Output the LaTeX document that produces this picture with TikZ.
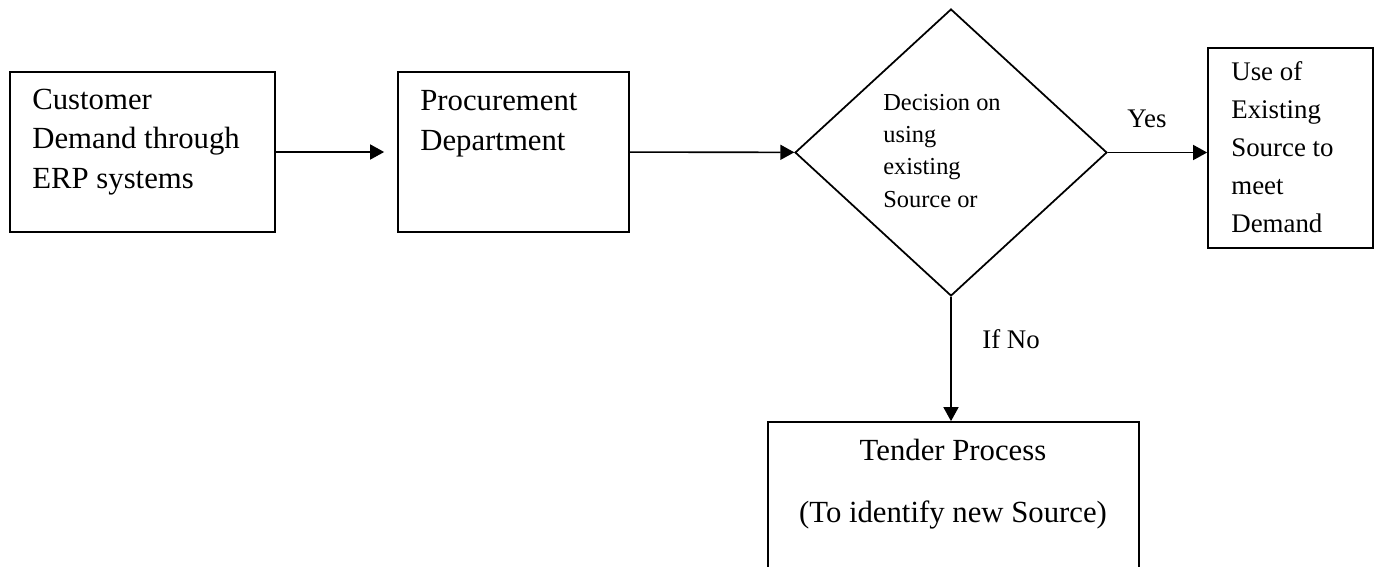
\documentclass[tikz,border=0pt]{standalone}
\usepackage{fontspec}
\setmainfont{Liberation Serif}
\usetikzlibrary{positioning,arrows.meta,shapes.geometric}

\begin{document}
\begin{tikzpicture}[x=0.02cm, y=-0.02cm,
  box/.style={draw, line width=1pt, inner sep=0pt},
  decision/.style={draw, diamond, line width=1pt, inner sep=0pt,
                   minimum width=6.24cm, minimum height=5.74cm},
  txt/.style={inner sep=0pt, align=left, anchor=base west,
              font=\fontsize{17.5pt}{22.4pt}\selectfont},
  small/.style={inner sep=0pt, align=left, anchor=base west,
                font=\fontsize{15.3pt}{21.5pt}\selectfont},
  dtxt/.style={inner sep=0pt, align=left, anchor=base west,
               font=\fontsize{13.9pt}{18.3pt}\selectfont},
  lab/.style={inner sep=0pt, font=\fontsize{15.3pt}{18pt}\selectfont},
  flow/.style={-{Triangle[length=0.28cm,width=0.3cm]}, line width=0.9pt},
]
\clip (0,0) rectangle (1377,566);

% Boxes and the decision diamond
\node[box, minimum width=5.3cm, minimum height=3.2cm] (C) at (142.5,152) {};
\node[box, minimum width=4.62cm, minimum height=3.2cm] (P) at (513.5,152) {};
\node[decision] (D) at (951,152.5) {};
\node[box, minimum width=3.3cm, minimum height=4cm] (U) at (1290.5,148) {};
\node[box, minimum width=7.42cm, minimum height=3.96cm] (T) at (953.5,521) {};

% Texts inside (placed by the baseline of their last line)
\node[txt] (Ct) at (32,188) {Customer\\Demand through\\ERP systems};
\node[txt] (Pt) at (420,150) {Procurement\\Department};
\node[dtxt] (Dt) at (883,207) {Decision on\\using\\existing\\Source or};
\node[small] (Ut) at (1231,232) {Use of\\Existing\\Source to\\meet\\Demand};
\node[txt, align=center, anchor=base] (Tt) at (953,522)
  {Tender Process\\[12.8pt](To identify new Source)};

% Flow
\draw[flow, shorten >=0.26cm] (C) -- (P);
\draw[flow] (P) -- (D);
\draw[flow] (D.east) -- (D.east -| U.west);
\draw[flow] (D.south) -- (D.south |- T.north);

% Branch labels
\node[lab, anchor=base] (yes) at (1147,127) {Yes};
\node[lab, anchor=base west] (no) at (982,348) {If No};
\end{tikzpicture}
\end{document}
